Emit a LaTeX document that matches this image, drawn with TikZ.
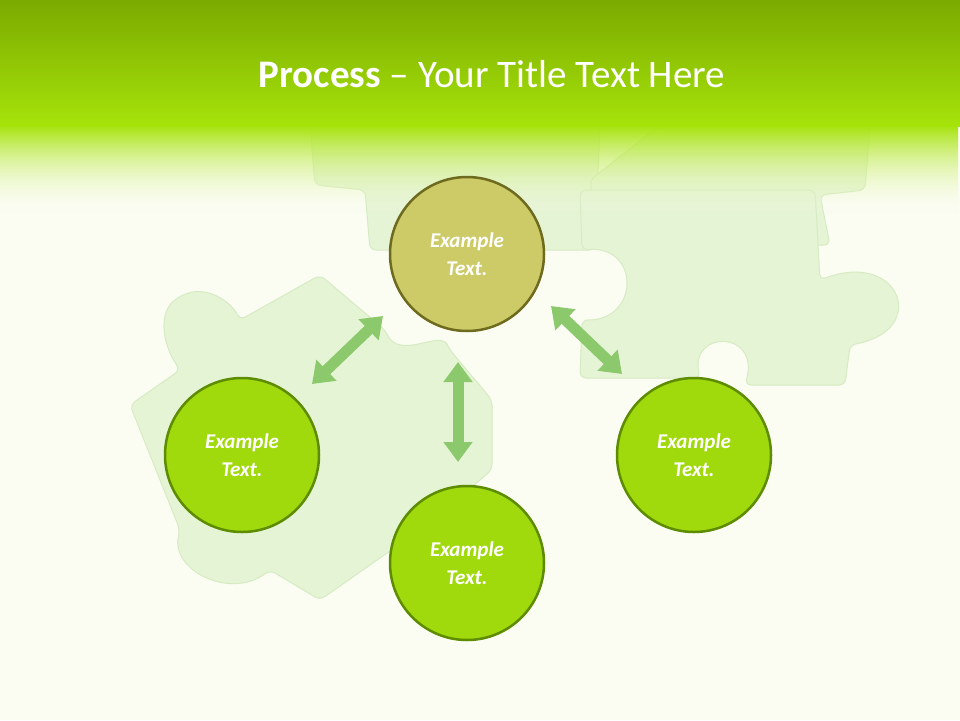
\documentclass[tikz,border=0pt]{standalone}
\usepackage{fontspec}
\setmainfont{Carlito}
\usetikzlibrary{arrows.meta,fadings}
\definecolor{bg}{HTML}{FBFDF3}
\definecolor{hdtop}{HTML}{7BAA00}
\definecolor{hdbot}{HTML}{A6E30A}
\definecolor{piece}{HTML}{E6F4D6}
\definecolor{pieceedge}{HTML}{D6EBC2}
\definecolor{olive}{HTML}{CCCB68}
\definecolor{olivedge}{HTML}{6E6A1E}
\definecolor{lime}{HTML}{A0D90C}
\definecolor{limedge}{HTML}{5E8C00}
\definecolor{arr}{HTML}{8CC96C}
\tikzset{
  bubble/.style={circle,minimum size=154pt,line width=2.5pt,text=white,
    font=\fontsize{21}{25}\selectfont\bfseries\itshape,align=center,inner sep=0pt},
  dbl/.style={arr,line width=11pt,{Triangle[width=28pt,length=20pt]}-{Triangle[width=28pt,length=20pt]}},
  pz/.style={fill=piece,draw=pieceedge,line width=1pt,rounded corners=6pt}
}
\begin{document}
\begin{tikzpicture}[x=1pt,y=-1pt]
\useasboundingbox (0,0) rectangle (960,720);
\fill[bg] (0,0) rectangle (960,720);
% puzzle pieces (faint)
\draw[pz] (310,125) -- (600,125) -- (595,250) -- (370,250) -- (365,190) -- (315,185) -- cycle;
\draw[pz] (660,125) -- (870,125) -- (865,190) -- (820,195) -- (830,245) -- (600,250) -- (590,180) -- cycle;
\draw[pz] (580,190) -- (815,190) -- (820,280) .. controls (900,250) and (930,330) .. (850,345) -- (845,385) -- (745,385) .. controls (760,330) and (690,330) .. (700,378) -- (580,378) -- (582,320) .. controls (640,320) and (640,245) .. (582,250) -- cycle;
\draw[pz] (175,300) .. controls (200,280) and (230,300) .. (240,320) -- (320,275) -- (385,330) .. controls (400,360) and (440,330) .. (450,350) -- (492,400) -- (492,470) -- (420,530) -- (320,600) -- (270,570) .. controls (230,600) and (170,570) .. (180,530) -- (130,405) -- (180,370) .. controls (160,340) and (160,310) .. (175,300);
% header
\shade[top color=hdtop,bottom color=hdbot] (0,0) rectangle (960,126);
\shade[top color=hdbot,bottom color=bg,path fading=south] (0,125) rectangle (960,215);
\node[text=white,font=\fontsize{39}{44}\selectfont] (title) at (492,74)
  {\textbf{Process} – Your Title Text Here};
% bubbles
\node[bubble,fill=olive,draw=olivedge] (top) at (467,254) {Example\\[3pt]Text.};
\node[bubble,fill=lime,draw=limedge] (left) at (242,455) {Example\\[3pt]Text.};
\node[bubble,fill=lime,draw=limedge] (bottom) at (467,563) {Example\\[3pt]Text.};
\node[bubble,fill=lime,draw=limedge] (right) at (694,455) {Example\\[3pt]Text.};
% arrows
\coordinate (a1) at (312,384); \coordinate (a2) at (383,316);
\coordinate (b1) at (458,362); \coordinate (b2) at (458,462);
\coordinate (c1) at (551,306); \coordinate (c2) at (622,374);
\draw[dbl] (a1) -- (a2);
\draw[dbl] (b1) -- (b2);
\draw[dbl] (c1) -- (c2);
\end{tikzpicture}
\end{document}
